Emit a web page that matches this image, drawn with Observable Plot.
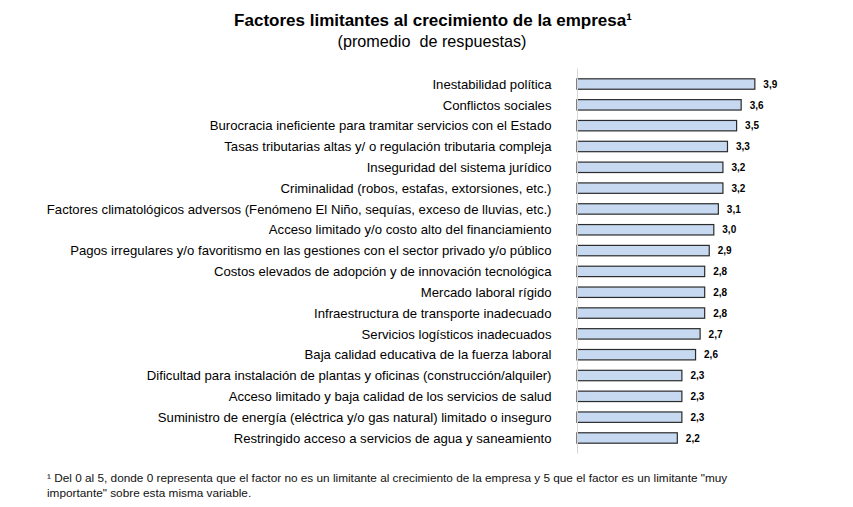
<!DOCTYPE html>
<html>
<head>
<meta charset="utf-8">
<script src="https://cdn.jsdelivr.net/npm/d3@7"></script>
<script src="https://cdn.jsdelivr.net/npm/@observablehq/plot@0.6"></script>
<style>
  body { margin: 0; background: #fff; font-family: "Liberation Sans", Arial, sans-serif; }
  #wrap { position: relative; width: 853px; height: 507px; }
  #title { position: absolute; left: 0; width: 866px; top: 11px; text-align: center; font-weight: bold; font-size: 17px; color: #000; }
  #subtitle { position: absolute; left: 0; width: 864px; top: 32px; text-align: center; font-size: 16.2px; color: #000; }
  #chart { position: absolute; left: 0; top: 60px; }
  #note { position: absolute; left: 47px; top: 471px; width: 700px; font-size: 11.8px; line-height: 15px; color: #111; }
</style>
</head>
<body>
<div id="wrap">
  <div id="title">Factores limitantes al crecimiento de la empresa¹</div>
  <div id="subtitle">(promedio&nbsp; de respuestas)</div>
  <div id="chart"></div>
  <div id="note">¹ Del 0 al 5, donde 0 representa que el factor no es un limitante al crecimiento de la empresa y 5 que el factor es un limitante "muy importante" sobre esta misma variable.</div>
</div>
<script>
const factores = [
  "Inestabilidad política",
  "Conflictos sociales",
  "Burocracia ineficiente para tramitar servicios con el Estado",
  "Tasas tributarias altas y/ o regulación tributaria compleja",
  "Inseguridad del sistema jurídico",
  "Criminalidad (robos, estafas, extorsiones, etc.)",
  "Factores climatológicos adversos (Fenómeno El Niño, sequías, exceso de lluvias, etc.)",
  "Acceso limitado y/o costo alto del financiamiento",
  "Pagos irregulares y/o favoritismo en las gestiones con el sector privado y/o público",
  "Costos elevados de adopción y de innovación tecnológica",
  "Mercado laboral rígido",
  "Infraestructura de transporte inadecuado",
  "Servicios logísticos inadecuados",
  "Baja calidad educativa de la fuerza laboral",
  "Dificultad para instalación de plantas y oficinas (construcción/alquiler)",
  "Acceso limitado y baja calidad de los servicios de salud",
  "Suministro de energía (eléctrica y/o gas natural) limitado o inseguro",
  "Restringido acceso a servicios de agua y saneamiento"
];
const promedios = [3.9, 3.6, 3.5, 3.3, 3.2, 3.2, 3.1, 3.0, 2.9, 2.8, 2.8, 2.8, 2.7, 2.6, 2.3, 2.3, 2.3, 2.2];

const data = factores.map((f, i) => ({factor: f, valor: promedios[i]}));
const fmt = v => v.toFixed(1).replace(".", ",");

const chart = Plot.plot({
  width: 853,
  height: 400,
  marginTop: 8.4,
  marginBottom: 6.4,
  marginLeft: 577,
  marginRight: 48,
  style: {fontFamily: "'Liberation Sans', Arial, sans-serif", fontSize: "13.15px", color: "#000", background: "transparent"},
  x: {domain: [0, 5], axis: null},
  y: {domain: factores, padding: 0.5, round: false, label: null, tickSize: 0, tickPadding: 26},
  marks: [
    Plot.barX(data, {x: "valor", y: "factor", fill: "#c6d9f1", stroke: "#2b2b2b", strokeWidth: 1.2}),
    Plot.ruleX([0], {stroke: "#d6d6d6", strokeWidth: 1}),
    Plot.text(data, {x: "valor", y: "factor", text: d => fmt(d.valor), dx: 8, textAnchor: "start", fontWeight: "bold", fontSize: 10, fill: "#000"})
  ]
});
document.getElementById("chart").appendChild(chart);
</script>
</body>
</html>
